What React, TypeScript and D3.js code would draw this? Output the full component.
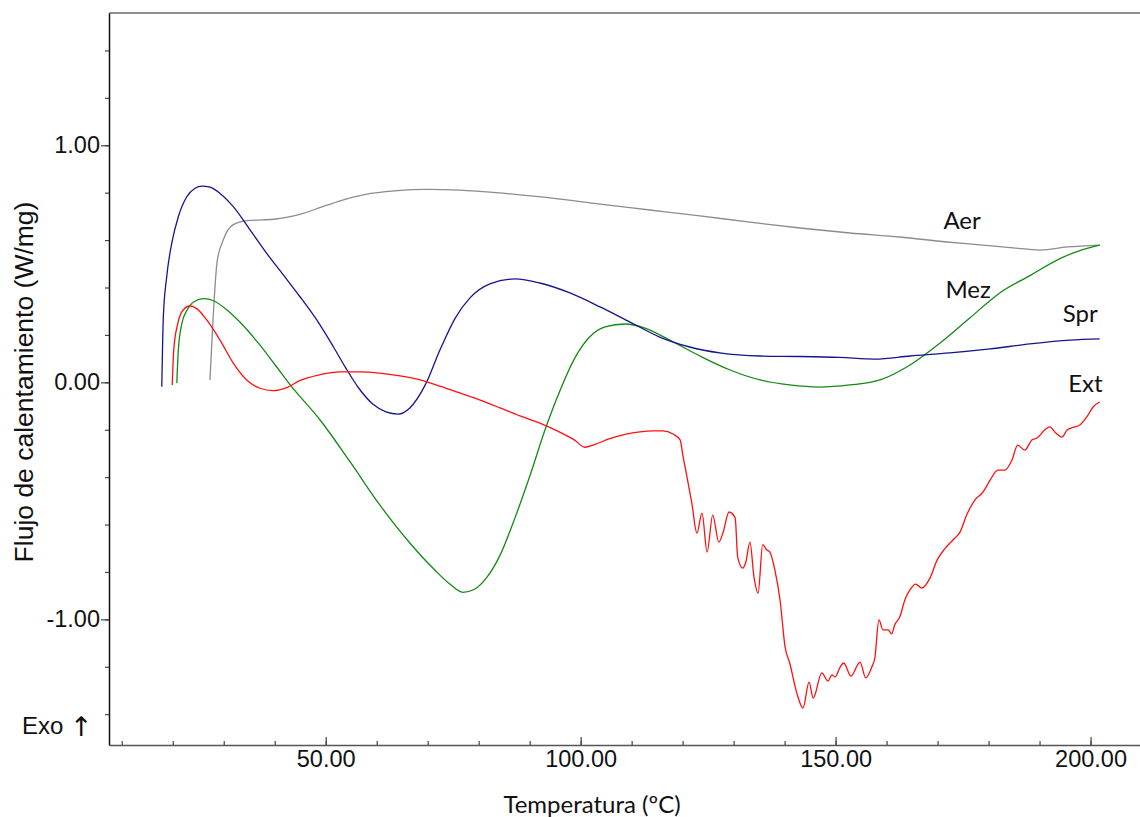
import React, { useEffect, useRef } from 'react';
import * as d3 from 'd3';

const WIDTH = 1140;
const HEIGHT = 817;

// Curves: [temperature ºC, heat flow W/mg]
const aer: [number, number][] = [
  [27.3, 0.01], [27.5, 0.094], [27.9, 0.263], [28.7, 0.508], [29.9, 0.6], [31.8, 0.664],
  [34.6, 0.682], [37.5, 0.685], [40.2, 0.689], [42.8, 0.698], [45.6, 0.713], [49.0, 0.738],
  [53.0, 0.767], [57.8, 0.793], [63.5, 0.808], [70.0, 0.814], [76.3, 0.811], [84.2, 0.799],
  [94.0, 0.778], [103.8, 0.752], [113.6, 0.727], [123.4, 0.702], [133.2, 0.676], [143.0, 0.651],
  [152.8, 0.63], [162.6, 0.613], [171.8, 0.592], [178.3, 0.58], [184.8, 0.567], [190.1, 0.558],
  [195.4, 0.571], [201.8, 0.579],
];

const mez: [number, number][] = [
  [20.8, -0.003], [21.1, 0.137], [21.8, 0.249], [22.8, 0.304], [24.1, 0.339], [26.1, 0.353],
  [28.1, 0.343], [30.7, 0.304], [33.4, 0.249], [36.8, 0.165], [40.1, 0.073], [43.0, -0.01],
  [48.9, -0.159], [54.8, -0.336], [60.6, -0.517], [66.5, -0.678], [71.4, -0.792], [74.4, -0.852],
  [76.9, -0.886], [79.1, -0.874], [81.6, -0.823], [84.2, -0.729], [87.1, -0.573], [90.1, -0.391],
  [93.0, -0.201], [96.0, -0.032], [98.9, 0.104], [101.8, 0.192], [104.8, 0.234], [108.7, 0.246],
  [112.6, 0.229], [117.5, 0.178], [123.4, 0.111], [129.3, 0.052], [135.2, 0.01], [141.0, -0.011],
  [146.9, -0.02], [152.8, -0.011], [158.7, 0.01], [164.6, 0.073], [170.5, 0.166], [176.3, 0.271],
  [182.2, 0.377], [188.1, 0.45], [194.0, 0.522], [197.9, 0.556], [201.8, 0.579],
];

const spr: [number, number][] = [
  [17.85, -0.019], [18.16, 0.277], [18.82, 0.446], [19.8, 0.586], [21.1, 0.699], [22.75, 0.783],
  [24.37, 0.819], [25.69, 0.828], [27.31, 0.823], [29.27, 0.797], [31.88, 0.741], [35.16, 0.643],
  [38.43, 0.544], [41.69, 0.453], [44.96, 0.361], [48.24, 0.263], [51.5, 0.15], [53.9, 0.062],
  [56.5, -0.025], [59.3, -0.093], [61.8, -0.125], [64.2, -0.134], [66.5, -0.108], [69.5, -0.012],
  [72.4, 0.136], [75.4, 0.271], [78.3, 0.356], [82.2, 0.415], [87.1, 0.436], [92.0, 0.419],
  [97.9, 0.377], [103.8, 0.318], [109.7, 0.254], [115.5, 0.191], [121.4, 0.149], [127.3, 0.124],
  [135.2, 0.111], [143.0, 0.109], [150.8, 0.105], [157.7, 0.098], [164.6, 0.111], [172.4, 0.124],
  [180.3, 0.141], [188.1, 0.162], [196.0, 0.178], [201.8, 0.183],
];

const ext: [number, number][] = [
  [19.9, -0.011], [20.2, 0.137], [21.0, 0.249], [22.0, 0.304], [23.4, 0.322], [24.7, 0.311],
  [26.7, 0.262], [29.3, 0.177], [31.9, 0.08], [34.5, 0.01], [37.1, -0.025], [39.7, -0.035],
  [42.4, -0.022], [45.0, 0.008], [48.9, 0.032], [52.8, 0.044], [56.7, 0.044], [60.6, 0.039],
  [64.6, 0.027], [68.5, 0.01], [72.4, -0.016], [76.3, -0.045], [80.3, -0.075], [84.2, -0.108],
  [88.1, -0.142], [92.0, -0.172], [95.9, -0.21], [98.9, -0.245], [100.8, -0.274], [102.8, -0.262],
  [105.7, -0.238], [108.7, -0.22], [111.6, -0.209], [114.2, -0.205], [116.1, -0.205], [118.1, -0.218],
  [119.5, -0.243], [120.1, -0.315], [120.9, -0.404], [121.8, -0.509], [122.8, -0.636], [123.8, -0.552],
  [124.8, -0.716], [125.9, -0.56], [127.1, -0.674], [127.9, -0.636], [129.1, -0.547], [130.3, -0.572],
  [130.8, -0.737], [131.8, -0.784], [132.4, -0.758], [133.2, -0.674], [134.0, -0.822], [134.8, -0.889],
  [135.7, -0.685], [136.5, -0.707], [137.1, -0.716], [138.1, -0.792], [139.1, -0.918], [140.1, -1.117],
  [141.0, -1.184], [142.4, -1.311], [143.6, -1.374], [144.8, -1.265], [145.6, -1.332], [147.3, -1.226],
  [148.5, -1.26], [149.3, -1.234], [149.9, -1.243], [150.9, -1.201], [151.6, -1.184], [153.0, -1.239],
  [154.8, -1.18], [155.9, -1.247], [157.1, -1.201], [157.7, -1.163], [158.5, -1.002], [159.3, -1.044],
  [160.3, -1.044], [161.0, -1.061], [161.6, -1.023], [162.6, -0.989], [163.6, -0.917], [164.6, -0.875],
  [165.7, -0.851], [166.9, -0.868], [168.5, -0.826], [169.9, -0.75], [171.4, -0.703], [173.0, -0.665],
  [174.4, -0.632], [175.7, -0.56], [177.3, -0.497], [178.9, -0.463], [180.3, -0.413], [181.8, -0.37],
  [183.2, -0.37], [184.6, -0.328], [185.7, -0.265], [187.1, -0.286], [188.5, -0.243], [189.5, -0.235],
  [191.0, -0.201], [192.0, -0.188], [193.2, -0.214], [194.4, -0.231], [195.4, -0.201], [196.3, -0.192],
  [197.9, -0.18], [199.5, -0.138], [200.5, -0.104], [201.8, -0.083],
];

const series = [
  { name: 'Aer', color: '#8c8c8c', data: aer },
  { name: 'Mez', color: '#138a13', data: mez },
  { name: 'Spr', color: '#15158f', data: spr },
  { name: 'Ext', color: '#ff1010', data: ext },
];

// curve names written next to the lines
const curveLabels = [
  { text: 'Aer', temp: 174.8, flow: 0.647 },
  { text: 'Mez', temp: 176.0, flow: 0.356 },
  { text: 'Spr', temp: 198.0, flow: 0.254 },
  { text: 'Ext', temp: 199.0, flow: -0.041 },
];

const xMajorTicks = [50, 100, 150, 200];
const xMinorTicks = d3.range(10, 201, 10);
const yMajorTicks = [-1, 0, 1];
const yMinorTicks = d3.range(-7, 8).map(d => d / 5);

const xDomain: [number, number] = [7.5, 209.7];
const yDomain: [number, number] = [-1.53, 1.558];

export default function App() {
  const svgRef = useRef<SVGSVGElement>(null);

  useEffect(() => {
    const el = svgRef.current;
    if (!el) return;
    const svg = d3.select(el);
    svg.selectAll('*').remove();

    const left = 109;
    const right = WIDTH;
    const top = 13;
    const bottom = 745;

    const x = d3.scaleLinear().domain(xDomain).range([left, right]);
    const y = d3.scaleLinear().domain(yDomain).range([bottom, top]);

    const tickFont = '"Liberation Sans", Arial, sans-serif';
    const labelFont = 'Lato, "Open Sans", sans-serif';
    const fmt = (d: number) => d.toFixed(2); // plain hyphen for negatives

    // top frame line
    svg.append('line')
      .attr('x1', left).attr('x2', right)
      .attr('y1', top).attr('y2', top)
      .style('stroke', '#222').style('stroke-width', 1.2);

    // x axis: minor ticks then major ticks with labels
    svg.append('g')
      .attr('transform', `translate(0, ${bottom})`)
      .call(d3.axisBottom(x).tickValues(xMinorTicks).tickSizeInner(-4).tickSizeOuter(0).tickFormat(() => ''))
      .call(g => g.select('.domain').style('stroke', '#555').style('stroke-width', 1.5));

    const xMajor = svg.append('g')
      .attr('transform', `translate(0, ${bottom})`)
      .call(d3.axisBottom(x).tickValues(xMajorTicks).tickSizeInner(-8).tickSizeOuter(0).tickPadding(5)
        .tickFormat(d => fmt(d as number)));
    xMajor.select('.domain').remove();
    xMajor.selectAll('text')
      .style('font-family', tickFont).style('font-size', '23.5px').style('fill', '#111');

    // y axis
    svg.append('g')
      .attr('transform', `translate(${left}, 0)`)
      .call(d3.axisLeft(y).tickValues(yMinorTicks).tickSizeInner(4).tickSizeOuter(0).tickFormat(() => ''))
      .call(g => g.select('.domain').style('stroke', '#111').style('stroke-width', 1.5));

    const yMajor = svg.append('g')
      .attr('transform', `translate(${left}, 0)`)
      .call(d3.axisLeft(y).tickValues(yMajorTicks).tickSizeInner(8).tickSizeOuter(0).tickPadding(1)
        .tickFormat(d => fmt(d as number)));
    yMajor.select('.domain').remove();
    yMajor.selectAll('text')
      .style('font-family', tickFont).style('font-size', '23.5px').style('fill', '#111');

    svg.selectAll('.tick line').style('stroke', '#444').style('stroke-width', 1.2);

    // curves
    const line = d3.line<[number, number]>()
      .x(d => x(d[0]))
      .y(d => y(d[1]))
      .curve(d3.curveMonotoneX);

    series.forEach(s => {
      svg.append('path')
        .datum(s.data)
        .attr('fill', 'none')
        .attr('stroke', s.color)
        .attr('stroke-width', 1.3)
        .attr('stroke-linejoin', 'round')
        .attr('d', line);
    });

    svg.selectAll('.curve-label')
      .data(curveLabels)
      .enter()
      .append('text')
      .attr('class', 'curve-label')
      .attr('x', d => x(d.temp))
      .attr('y', d => y(d.flow))
      .attr('text-anchor', 'middle')
      .style('font-family', labelFont)
      .style('font-size', '24px')
      .style('fill', '#111')
      .text(d => d.text);

    // axis titles
    svg.append('text')
      .attr('transform', `translate(33, ${(top + bottom) / 2 + 3}) rotate(-90)`)
      .attr('text-anchor', 'middle')
      .style('font-family', tickFont)
      .style('font-size', '26.5px')
      .style('fill', '#111')
      .text('Flujo de calentamiento (W/mg)');

    svg.append('text')
      .attr('x', 592)
      .attr('y', 813)
      .attr('text-anchor', 'middle')
      .style('font-family', labelFont)
      .style('font-size', '24px')
      .style('fill', '#111')
      .text('Temperatura (ºC)');

    const exo = svg.append('text')
      .attr('x', 22)
      .attr('y', 734)
      .style('font-family', tickFont)
      .style('font-size', '24px')
      .style('fill', '#111');
    exo.append('tspan').text('Exo ');
    exo.append('tspan')
      .style('font-family', '"DejaVu Sans", sans-serif')
      .style('font-size', '27px')
      .attr('dy', 2)
      .text('↑');
  }, []);

  return (
    <svg
      ref={svgRef}
      width={WIDTH}
      height={HEIGHT}
      style={{ position: 'absolute', left: 0, top: 0, background: '#fff' }}
    />
  );
}
